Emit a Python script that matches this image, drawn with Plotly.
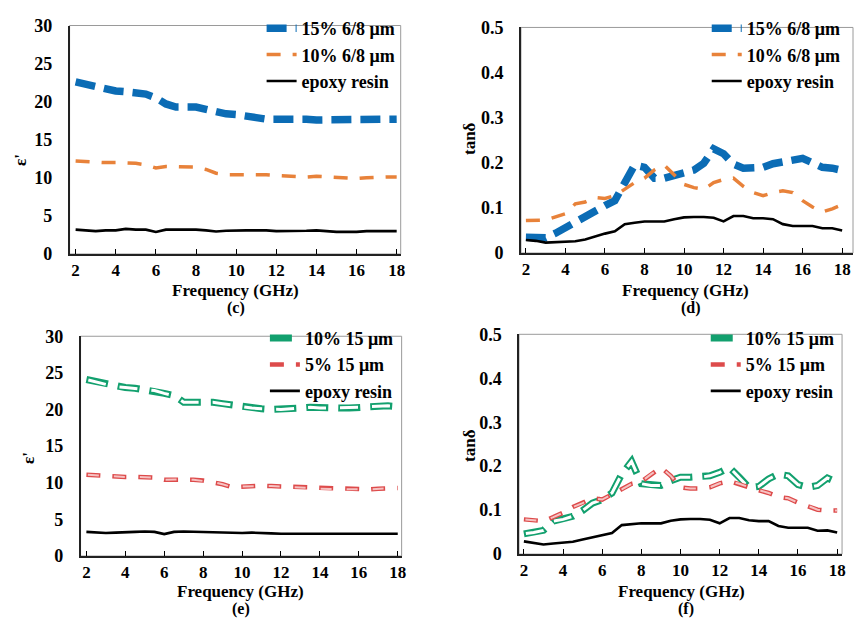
import plotly.graph_objects as go

freq = [2.0, 2.5, 3.0, 3.5, 4.0, 4.5, 5.0, 5.5, 6.0, 6.5, 7.0, 7.5, 8.0, 8.5, 9.0, 9.5, 10.0,
        10.5, 11.0, 11.5, 12.0, 12.5, 13.0, 13.5, 14.0, 14.5, 15.0, 15.5, 16.0, 16.5, 17.0, 17.5, 18.0]

# (c) permittivity, 6/8 um
c_15 = [22.6, 22.3, 21.9, 21.7, 21.4, 21.3, 21.2, 21.0, 20.5, 19.7, 19.3, 19.3, 19.3, 19.0, 18.6, 18.4, 18.3,
        18.2, 17.9, 17.7, 17.7, 17.9, 17.9, 17.7, 17.6, 17.6, 17.6, 17.6, 17.6, 17.7, 17.8, 17.8, 17.7]
c_10 = [12.2, 12.1, 12.0, 12.0, 12.0, 12.0, 11.9, 11.7, 11.3, 11.5, 11.5, 11.5, 11.4, 11.1, 10.6, 10.4, 10.4,
        10.5, 10.5, 10.4, 10.3, 10.2, 10.1, 10.1, 10.2, 10.1, 10.1, 9.9, 9.9, 10.0, 10.1, 10.1, 10.1]
c_epoxy = [3.2, 3.1, 3.0, 3.1, 3.1, 3.3, 3.2, 3.2, 2.9, 3.2, 3.2, 3.2, 3.2, 3.1, 2.95, 3.05, 3.1,
           3.1, 3.1, 3.1, 3.0, 3.0, 3.0, 3.05, 3.1, 3.0, 2.9, 2.9, 2.9, 3.0, 3.0, 3.0, 3.0]

# (d) loss tangent, 6/8 um
d_15 = [0.035, 0.035, 0.034, 0.044, 0.057, 0.070, 0.082, 0.095, 0.105, 0.116, 0.152, 0.195, 0.190, 0.166, 0.166, 0.172, 0.177,
        0.184, 0.199, 0.231, 0.220, 0.197, 0.188, 0.190, 0.190, 0.198, 0.202, 0.206, 0.210, 0.200, 0.190, 0.188, 0.183]
d_10 = [0.072, 0.072, 0.073, 0.080, 0.087, 0.109, 0.113, 0.123, 0.121, 0.127, 0.141, 0.156, 0.166, 0.184, 0.195, 0.174, 0.152,
        0.145, 0.141, 0.156, 0.163, 0.166, 0.148, 0.134, 0.127, 0.134, 0.138, 0.134, 0.116, 0.102, 0.091, 0.098, 0.107]
d_epoxy = [0.029, 0.027, 0.023, 0.024, 0.025, 0.026, 0.030, 0.037, 0.043, 0.048, 0.064, 0.067, 0.070, 0.070, 0.070, 0.075, 0.079,
           0.080, 0.080, 0.078, 0.070, 0.082, 0.082, 0.077, 0.077, 0.075, 0.064, 0.060, 0.060, 0.060, 0.055, 0.055, 0.050]

# (e) permittivity, 15 um
e_10 = [24.1, 23.8, 23.4, 23.1, 23.0, 22.9, 22.7, 22.6, 22.2, 21.9, 21.0, 21.0, 21.1, 21.0, 20.8, 20.6, 20.3,
        20.2, 20.1, 20.0, 20.0, 20.1, 20.2, 20.3, 20.2, 20.2, 20.2, 20.2, 20.3, 20.4, 20.5, 20.5, 20.4]
e_5 = [11.1, 11.0, 10.9, 10.85, 10.8, 10.8, 10.8, 10.7, 10.4, 10.45, 10.5, 10.4, 10.3, 10.1, 9.8, 9.4, 9.5,
       9.55, 9.6, 9.55, 9.5, 9.4, 9.35, 9.3, 9.2, 9.15, 9.1, 9.1, 9.1, 9.1, 9.2, 9.25, 9.3]
e_epoxy = [3.3, 3.2, 3.15, 3.2, 3.2, 3.3, 3.35, 3.3, 3.0, 3.3, 3.35, 3.3, 3.25, 3.2, 3.15, 3.15, 3.15,
           3.2, 3.2, 3.1, 3.05, 3.05, 3.05, 3.1, 3.15, 3.1, 3.05, 3.05, 3.05, 3.1, 3.15, 3.1, 3.05]

# (f) loss tangent, 15 um
f_10 = [0.046, 0.049, 0.054, 0.075, 0.079, 0.086, 0.099, 0.116, 0.124, 0.139, 0.182, 0.211, 0.160, 0.156, 0.156, 0.167, 0.175,
        0.175, 0.175, 0.178, 0.186, 0.197, 0.175, 0.151, 0.154, 0.171, 0.182, 0.178, 0.158, 0.152, 0.156, 0.173, 0.163]
f_5 = [0.079, 0.077, 0.075, 0.084, 0.094, 0.107, 0.116, 0.127, 0.124, 0.136, 0.147, 0.160, 0.165, 0.182, 0.197, 0.178, 0.152,
       0.149, 0.149, 0.152, 0.161, 0.166, 0.160, 0.152, 0.145, 0.139, 0.130, 0.127, 0.117, 0.110, 0.101, 0.099, 0.099]
f_epoxy = [0.029, 0.026, 0.022, 0.024, 0.026, 0.028, 0.033, 0.038, 0.042, 0.048, 0.066, 0.068, 0.070, 0.070, 0.070, 0.076, 0.079,
           0.080, 0.080, 0.078, 0.070, 0.082, 0.082, 0.077, 0.075, 0.075, 0.064, 0.060, 0.060, 0.060, 0.053, 0.054, 0.049]

x_ticks = [2, 4, 6, 8, 10, 12, 14, 16, 18]
eps_ticks = [0, 5, 10, 15, 20, 25, 30]
tan_ticks = [0, 0.1, 0.2, 0.3, 0.4, 0.5]
tan_labels = ["0", "0.1", "0.2", "0.3", "0.4", "0.5"]
x_title = "Frequency (GHz)"
panel_labels = ["(c)", "(d)", "(e)", "(f)"]

FONT = "Liberation Serif"
BLUE = "#0B6CB5"
ORANGE = "#E8823A"
GREEN = "#12A06E"
RED = "#DD4B4B"
PINK = "#F6C2C2"
FS = 17

fig = go.Figure()


def panel(idx, series):
    xa = "x" if idx == 1 else f"x{idx}"
    ya = "y" if idx == 1 else f"y{idx}"
    lg = "legend" if idx == 1 else f"legend{idx}"
    for kind, name, vals in series:
        if kind == "blue":
            fig.add_trace(go.Scatter(x=freq, y=vals, name=name, mode="lines", xaxis=xa, yaxis=ya, legend=lg,
                                     line=dict(color=BLUE, width=7.5, dash="20px,9px")))
        elif kind == "orange":
            fig.add_trace(go.Scatter(x=freq, y=vals, name=name, mode="lines", xaxis=xa, yaxis=ya, legend=lg,
                                     line=dict(color=ORANGE, width=3.5, dash="14px,12px")))
        elif kind == "green":
            fig.add_trace(go.Scatter(x=freq, y=vals, name=name, mode="lines", xaxis=xa, yaxis=ya, legend=lg,
                                     line=dict(color=GREEN, width=7, dash="22px,10px")))
            fig.add_trace(go.Scatter(x=freq, y=vals, name=name, mode="lines", xaxis=xa, yaxis=ya, legend=lg,
                                     showlegend=False, hoverinfo="skip",
                                     line=dict(color="white", width=3, dash="0px,2px,18px,12px")))
        elif kind == "red":
            fig.add_trace(go.Scatter(x=freq, y=vals, name=name, mode="lines", xaxis=xa, yaxis=ya, legend=lg,
                                     line=dict(color=RED, width=4.5, dash="14px,12px")))
            fig.add_trace(go.Scatter(x=freq, y=vals, name=name, mode="lines", xaxis=xa, yaxis=ya, legend=lg,
                                     showlegend=False, hoverinfo="skip",
                                     line=dict(color=PINK, width=2, dash="0px,1.5px,11px,13.5px")))
        else:
            fig.add_trace(go.Scatter(x=freq, y=vals, name=name, mode="lines", xaxis=xa, yaxis=ya, legend=lg,
                                     line=dict(color="black", width=2.6)))


panel(1, [("blue", "15% 6/8 μm", c_15), ("orange", "10% 6/8 μm", c_10), ("black", "epoxy resin", c_epoxy)])
panel(2, [("blue", "15% 6/8 μm", d_15), ("orange", "10% 6/8 μm", d_10), ("black", "epoxy resin", d_epoxy)])
panel(3, [("green", "10% 15 μm", e_10), ("red", "5% 15 μm", e_5), ("black", "epoxy resin", e_epoxy)])
panel(4, [("green", "10% 15 μm", f_10), ("red", "5% 15 μm", f_5), ("black", "epoxy resin", f_epoxy)])

tickfont = dict(family=FONT, size=FS, color="black", weight="bold")
titlefont = dict(family=FONT, size=FS, color="black", weight="bold")
labelfont = dict(family=FONT, size=16, color="black", weight="bold")

H = 628.0
W = 861.0
domains = {
    1: dict(x=[0.0813, 0.4681], y=[0.5987, 0.9745], xr=[1.7, 18.2], yr=[0, 30], eps=True,
            lx=0.468, ly=1.0, t=(237, 290), p=(237, 308), yt=(20, 155)),
    2: dict(x=[0.6086, 0.9965], y=[0.6003, 0.9713], xr=[1.75, 18.55], yr=[0, 0.5], eps=False,
            lx=0.988, ly=1.0, t=(690, 290), p=(695, 308), yt=(473, 133)),
    3: dict(x=[0.0941, 0.4692], y=[0.1019, 0.4634], xr=[1.7, 18.2], yr=[0, 30], eps=True,
            lx=0.466, ly=0.4904, t=(242, 601), p=(242, 619), yt=(28, 463)),
    4: dict(x=[0.6063, 0.9837], y=[0.1051, 0.4666], xr=[1.75, 18.25], yr=[0, 0.5], eps=False,
            lx=0.981, ly=0.4904, t=(685, 601), p=(690, 619), yt=(472, 450)),
}

layout = dict(
    width=861, height=628, margin=dict(l=0, r=0, t=0, b=0),
    paper_bgcolor="white", plot_bgcolor="white", showlegend=True,
    font=dict(family=FONT, color="black"),
)
shapes = []
annotations = []


def note(text, px, py, angle=0, font=titlefont):
    annotations.append(dict(text=text, x=px / W, y=1 - py / H, xref="paper", yref="paper", showarrow=False,
                            xanchor="center", yanchor="middle", textangle=angle, font=font))


for i, d in domains.items():
    xk = "xaxis" if i == 1 else f"xaxis{i}"
    yk = "yaxis" if i == 1 else f"yaxis{i}"
    xa = "x" if i == 1 else f"x{i}"
    ya = "y" if i == 1 else f"y{i}"
    layout[xk] = dict(
        domain=d["x"], range=d["xr"], anchor=ya, tickvals=x_ticks, ticktext=[str(v) for v in x_ticks],
        ticks="inside", ticklen=5, tickwidth=1.2, tickcolor="black", showgrid=False, zeroline=False,
        showline=True, linecolor="#222", linewidth=1.5, tickfont=tickfont,
    )
    layout[yk] = dict(
        domain=d["y"], range=d["yr"], anchor=xa,
        tickvals=eps_ticks if d["eps"] else tan_ticks,
        ticktext=[str(v) for v in eps_ticks] if d["eps"] else tan_labels,
        ticks="", showgrid=False, zeroline=False, showline=True, linecolor="#222", linewidth=1.5,
        tickfont=dict(family=FONT, size=18, color="black", weight="bold"), ticklabelstandoff=12,
    )
    shapes.append(dict(type="rect", xref=f"{xa} domain", yref=f"{ya} domain", x0=0, x1=1, y0=0, y1=1,
                       line=dict(color="#9a9a9a", width=1), layer="below"))
    lg = "legend" if i == 1 else f"legend{i}"
    layout[lg] = dict(
        x=d["lx"], xanchor="right", y=d["ly"], yanchor="top",
        bgcolor="rgba(255,255,255,0)", borderwidth=0, tracegroupgap=0,
        font=dict(family=FONT, size=18, color="black", weight="bold"),
        itemwidth=30,
    )
    note(x_title, *d["t"])
    note(panel_labels[i - 1], *d["p"], font=labelfont)
    note("ε'" if d["eps"] else "tanδ", *d["yt"], angle=-90)

layout["shapes"] = shapes
layout["annotations"] = annotations
fig.update_layout(**layout)
fig.write_html("out.html")
